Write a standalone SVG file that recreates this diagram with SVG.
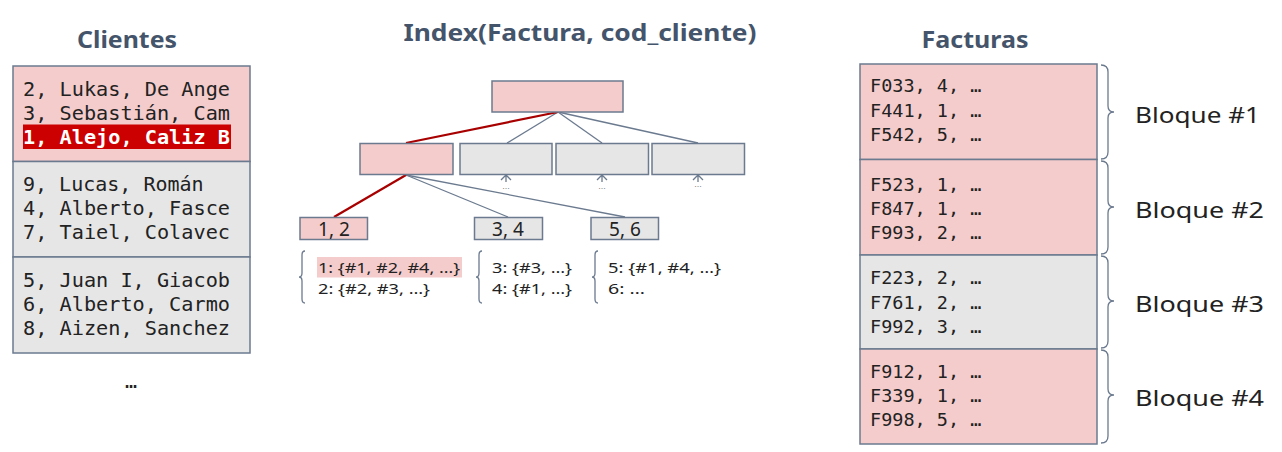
<svg xmlns="http://www.w3.org/2000/svg" width="1282" height="452" viewBox="0 0 1282 452">
<style>
.title{font-family:"Noto Sans","Liberation Sans",sans-serif;font-weight:bold;font-size:23px;fill:#44546a;text-anchor:middle}
.mono{font-family:"DejaVu Sans Mono","Liberation Mono",monospace;font-size:20px;fill:#222}
.monof{font-family:"DejaVu Sans Mono","Liberation Mono",monospace;font-size:18.5px;fill:#222}
.pink{fill:#f4cccc;stroke:#6b7a8f;stroke-width:1.5}
.gray{fill:#e6e6e6;stroke:#6b7a8f;stroke-width:1.5}
.lbl{font-family:"Noto Sans","Liberation Sans",sans-serif;font-size:19px;fill:#222;text-anchor:middle}
.lst{font-family:"Noto Sans","Liberation Sans",sans-serif;font-size:14.5px;fill:#222}
.blq{font-family:"Noto Sans","Liberation Sans",sans-serif;font-size:22px;fill:#222}
.brace{fill:none;stroke:#6b7a8f;stroke-width:1.3}
.edge{stroke:#6b7a8f;stroke-width:1.3;fill:none}
.red{stroke:#a80000;stroke-width:2.2;fill:none}
.dots{font-family:"Liberation Sans",sans-serif;font-size:9px;fill:#888;text-anchor:middle}
</style>
<rect width="1282" height="452" fill="#fff"/>

<text class="title" x="127" y="48" textLength="100" lengthAdjust="spacingAndGlyphs">Clientes</text>
<text class="title" x="580" y="41" textLength="353" lengthAdjust="spacingAndGlyphs">Index(Factura, cod_cliente)</text>
<text class="title" x="975" y="48" textLength="107" lengthAdjust="spacingAndGlyphs">Facturas</text>

<g id="clientes">
  <rect class="pink" x="13" y="66" width="237" height="95.5"/>
  <rect class="gray" x="13" y="161.5" width="237" height="95.5"/>
  <rect class="gray" x="13" y="257" width="237" height="96"/>
  <rect x="23" y="124.5" width="208" height="24.5" fill="#cc0000"/>
  <text class="mono" x="23" y="96" textLength="207" lengthAdjust="spacingAndGlyphs">2, Lukas, De Ange</text>
  <text class="mono" x="23" y="120" textLength="207" lengthAdjust="spacingAndGlyphs">3, Sebastián, Cam</text>
  <text class="mono" x="23" y="144" style="fill:#fff;font-weight:bold" textLength="207" lengthAdjust="spacingAndGlyphs">1, Alejo, Caliz B</text>
  <text class="mono" x="23" y="191">9, Lucas, Román</text>
  <text class="mono" x="23" y="215" textLength="207" lengthAdjust="spacingAndGlyphs">4, Alberto, Fasce</text>
  <text class="mono" x="23" y="239" textLength="207" lengthAdjust="spacingAndGlyphs">7, Taiel, Colavec</text>
  <text class="mono" x="23" y="287" textLength="207" lengthAdjust="spacingAndGlyphs">5, Juan I, Giacob</text>
  <text class="mono" x="23" y="311" textLength="207" lengthAdjust="spacingAndGlyphs">6, Alberto, Carmo</text>
  <text class="mono" x="23" y="335" textLength="207" lengthAdjust="spacingAndGlyphs">8, Aizen, Sanchez</text>
  <text class="mono" x="131" y="388" text-anchor="middle">…</text>
</g>

<g id="connectors">
  <line class="edge" x1="558" y1="112" x2="507" y2="143"/>
  <line class="edge" x1="558" y1="112" x2="602" y2="143"/>
  <line class="edge" x1="558" y1="112" x2="698" y2="143"/>
  <line class="red" x1="558" y1="112" x2="406" y2="143"/>
  <line class="edge" x1="406" y1="175" x2="508" y2="217"/>
  <line class="edge" x1="406" y1="175" x2="625" y2="217"/>
  <line class="red" x1="406" y1="175" x2="334" y2="217"/>
</g>

<g id="root"><rect class="pink" x="492" y="81" width="131" height="31"/></g>
<g id="n2a"><rect class="pink" x="360" y="143.5" width="93" height="31"/></g>
<g id="n2b"><rect class="gray" x="460" y="143.5" width="92" height="31"/>
  <path class="edge" d="M501,180 L506,175 L511,180 M506,175 V182"/><text class="dots" x="506" y="189">...</text></g>
<g id="n2c"><rect class="gray" x="556" y="143.5" width="92.5" height="31"/>
  <path class="edge" d="M597,180 L602,175 L607,180 M602,175 V182"/><text class="dots" x="602" y="189">...</text></g>
<g id="n2d"><rect class="gray" x="652" y="143.5" width="92.5" height="31"/>
  <path class="edge" d="M693,180 L698,175 L703,180 M698,175 V182"/><text class="dots" x="698" y="187">...</text></g>

<g id="leaf12">
  <rect class="pink" x="300" y="217.5" width="67.5" height="22"/>
  <text class="lbl" x="334" y="236">1, 2</text>
  <path class="brace" d="M305,251 Q302,251 302,255 L302,273 Q302,277 299,277 Q302,277 302,281 L302,299 Q302,303 305,303"/>
  <rect x="317" y="257" width="145" height="20.5" fill="#f4cccc"/>
  <text class="lst" x="318" y="273" textLength="142" lengthAdjust="spacingAndGlyphs">1: {#1, #2, #4, …}</text>
  <text class="lst" x="318" y="294" textLength="112" lengthAdjust="spacingAndGlyphs">2: {#2, #3, …}</text>
</g>
<g id="leaf34">
  <rect class="gray" x="474.5" y="217.5" width="68" height="22"/>
  <text class="lbl" x="508" y="236">3, 4</text>
  <path class="brace" d="M482,251 Q479,251 479,255 L479,273 Q479,277 476,277 Q479,277 479,281 L479,299 Q479,303 482,303"/>
  <text class="lst" x="492" y="273" textLength="80" lengthAdjust="spacingAndGlyphs">3: {#3, …}</text>
  <text class="lst" x="492" y="294" textLength="80" lengthAdjust="spacingAndGlyphs">4: {#1, …}</text>
</g>
<g id="leaf56">
  <rect class="gray" x="591" y="217.5" width="67.5" height="22"/>
  <text class="lbl" x="625" y="236">5, 6</text>
  <path class="brace" d="M598,251 Q595,251 595,255 L595,273 Q595,277 592,277 Q595,277 595,281 L595,299 Q595,303 598,303"/>
  <text class="lst" x="608" y="273" textLength="113" lengthAdjust="spacingAndGlyphs">5: {#1, #4, …}</text>
  <text class="lst" x="608" y="294" textLength="37" lengthAdjust="spacingAndGlyphs">6: …</text>
</g>

<g id="facturas">
  <rect class="pink" x="860" y="64" width="237" height="95.5"/>
  <rect class="pink" x="860" y="159.5" width="237" height="95.5"/>
  <rect class="gray" x="860" y="255" width="237" height="94"/>
  <rect class="pink" x="860" y="349" width="237" height="95"/>
  <text class="monof" x="870" y="92">F033, 4, …</text>
  <text class="monof" x="870" y="117">F441, 1, …</text>
  <text class="monof" x="870" y="141">F542, 5, …</text>
  <text class="monof" x="870" y="191">F523, 1, …</text>
  <text class="monof" x="870" y="215">F847, 1, …</text>
  <text class="monof" x="870" y="239">F993, 2, …</text>
  <text class="monof" x="870" y="284">F223, 2, …</text>
  <text class="monof" x="870" y="309">F761, 2, …</text>
  <text class="monof" x="870" y="333">F992, 3, …</text>
  <text class="monof" x="870" y="378">F912, 1, …</text>
  <text class="monof" x="870" y="402">F339, 1, …</text>
  <text class="monof" x="870" y="426">F998, 5, …</text>
</g>

<g id="bloques">
  <path class="brace" d="M1101,65 Q1108,65 1108,72 L1108,106 Q1108,112 1114,112 Q1108,112 1108,118 L1108,152 Q1108,159 1101,159"/>
  <path class="brace" d="M1101,161 Q1108,161 1108,168 L1108,201 Q1108,207 1114,207 Q1108,207 1108,213 L1108,247 Q1108,254 1101,254"/>
  <path class="brace" d="M1101,256 Q1108,256 1108,263 L1108,295 Q1108,301 1114,301 Q1108,301 1108,307 L1108,341 Q1108,348 1101,348"/>
  <path class="brace" d="M1101,350 Q1108,350 1108,357 L1108,389 Q1108,395 1114,395 Q1108,395 1108,401 L1108,436 Q1108,443 1101,443"/>
  <text class="blq" x="1135" y="123" textLength="125" lengthAdjust="spacingAndGlyphs">Bloque #1</text>
  <text class="blq" x="1135" y="218" textLength="129" lengthAdjust="spacingAndGlyphs">Bloque #2</text>
  <text class="blq" x="1135" y="312" textLength="129" lengthAdjust="spacingAndGlyphs">Bloque #3</text>
  <text class="blq" x="1135" y="406" textLength="129" lengthAdjust="spacingAndGlyphs">Bloque #4</text>
</g>
</svg>
